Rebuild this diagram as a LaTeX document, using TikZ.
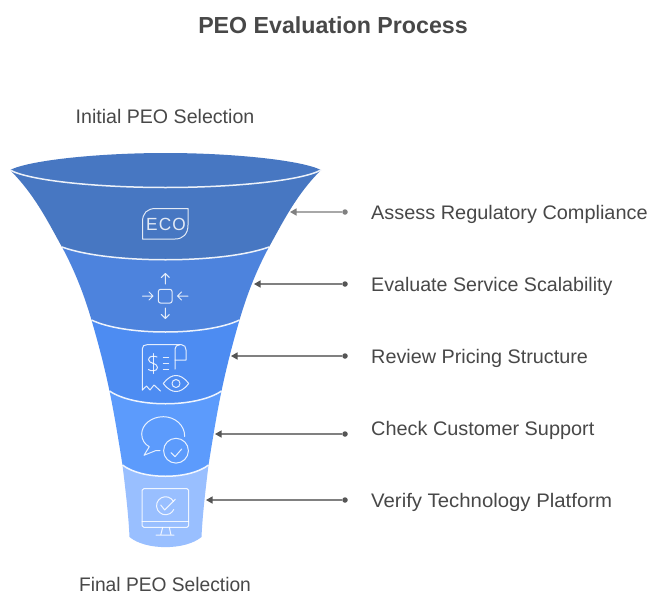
\documentclass[tikz,border=0pt]{standalone}
\usepackage{fontspec}
\setmainfont{Liberation Sans}
\usetikzlibrary{arrows.meta}
\definecolor{txt}{HTML}{484848}
\definecolor{ca}{HTML}{4777C2}
\definecolor{cb}{HTML}{4D83DD}
\definecolor{cc}{HTML}{4D8CF2}
\definecolor{cd}{HTML}{5C9BFC}
\definecolor{ce}{HTML}{99BFFF}
\definecolor{lnA}{HTML}{A8A8A8}
\definecolor{tpA}{HTML}{808080}
\definecolor{lnB}{HTML}{808080}
\definecolor{tpB}{HTML}{555555}
\tikzset{
  lab/.style={anchor=base west,inner sep=0pt,text=txt,font=\fontsize{19.6}{22}\selectfont},
  captxt/.style={anchor=base,inner sep=0pt,text=txt,font=\fontsize{19.6}{22}\selectfont},
  ttl/.style={anchor=base,inner sep=0pt,text=txt,font=\fontsize{23.2}{28}\selectfont\bfseries},
  dotmark/.style={circle,fill=#1,draw=none,minimum size=5.5pt,inner sep=0pt},
  conn/.style n args={2}{draw=#1,line width=1.3pt,-{Triangle[length=6.5pt,width=7pt,fill=#2,color=#2]}},
  icon/.style={draw=white,draw opacity=.85,line width=1pt,line cap=round,line join=round},
  seam/.style={draw=white,draw opacity=.9,line width=1.5pt},
}
% \seg{colour}{wTop}{yTop}{w c1}{y c1}{w c2}{y c2}{wBot}{yBot}
\newcommand{\seg}[9]{%
  \def\cx{165.5}%
  \path[fill=#1,draw=none] ({\cx-#2},#3) .. controls ({\cx-#4},#5) and ({\cx-#6},#7) .. ({\cx-#8},#9)
     .. controls ({\cx-.55*#8},{#9+\dpth}) and ({\cx+.55*#8},{#9+\dpth}) .. ({\cx+#8},#9)
     .. controls ({\cx+#6},#7) and ({\cx+#4},#5) .. ({\cx+#2},#3) -- cycle;
}
\newcommand{\arcc}[2]{%
  \path[seam] ({165.5-#1},#2) .. controls ({165.5-.55*#1},{#2+\dpth}) and ({165.5+.55*#1},{#2+\dpth}) .. ({165.5+#1},#2);
}
\begin{document}
\begin{tikzpicture}[x=1pt,y=-1pt]
\useasboundingbox (0,0) rectangle (658,602);
\fill[white] (0,0) rectangle (658,602);
% funnel, bottom up
\def\dpth{13.5}
\seg{ce}{43}{465}{40}{490}{37}{515}{36}{537}
\def\dpth{15}
\seg{cd}{56}{391}{51}{415}{47}{440}{43}{465}
\arcc{43}{465}
\def\dpth{17}
\seg{cc}{74}{320}{67}{344}{61}{367}{56}{391}
\arcc{56}{391}
\def\dpth{16}
\seg{cb}{103.5}{247}{90.5}{271}{81}{296}{74}{320}
\arcc{74}{320}
\def\dpth{17}
\seg{ca}{155.5}{170}{130.5}{195}{117.5}{222}{103.5}{247}
\arcc{103.5}{247}
% top ellipse
\fill[ca] (10,170) .. controls (30,160) and (100,153) .. (165.5,153) .. controls (231,153) and (301,160) .. (321,170)
  .. controls (301,181) and (231,187.5) .. (165.5,187.5) .. controls (100,187.5) and (30,181) .. (10,170) -- cycle;
\path[seam] (10,170) .. controls (30,181) and (100,187.5) .. (165.5,187.5) .. controls (231,187.5) and (301,181) .. (321,170);
% ECO icon
\path[icon] (142.5,239) -- (142.5,222) .. controls (142.5,213) and (147,208.5) .. (156,208.5) -- (188,208.5) -- (188,225)
  .. controls (188,234) and (183,239) .. (175,239) -- cycle;
\node[inner sep=0pt,text=white,opacity=.85,xscale=.98,font=\fontsize{17.6}{20}\selectfont] (eco) at (166,224.5) {\addfontfeature{LetterSpace=7}ECO};
% scale icon
\path[icon] (158.4,291.5) .. controls (158.4,290) and (159.4,289.4) .. (160.5,289.4) -- (170,289.4) .. controls (171.2,289.4) and (172,290.2) .. (172,291.5) -- (172,301) .. controls (172,302.2) and (171.2,303) .. (170,303) -- (160.5,303) .. controls (159.4,303) and (158.4,302.2) .. (158.4,301) -- cycle;
\path[icon] (165.3,284) -- (165.3,273.5) (161.3,277.5) -- (165.3,273.5) -- (169.3,277.5);
\path[icon] (165.3,308) -- (165.3,318.5) (161.3,314.5) -- (165.3,318.5) -- (169.3,314.5);
\path[icon] (142.5,296) -- (153,296) (149,292) -- (153,296) -- (149,300);
\path[icon] (188,296) -- (177.5,296) (181.5,292) -- (177.5,296) -- (181.5,300);
% receipt icon
\path[icon] (142.3,390) -- (142.3,349) .. controls (142.3,346) and (144,344.7) .. (147,344.7) -- (181.5,344.7)
  .. controls (184.5,344.7) and (186,347) .. (186,350) -- (186,360) -- (175,360);
\path[icon] (175,369) -- (175,349) .. controls (175,346.5) and (177,344.7) .. (180,344.7);
\path[icon] (142.3,390) -- (146.5,386) -- (150,390) -- (154,385) -- (160.5,391);
\path[icon] (157,357) .. controls (155,355.6) and (148.5,355.6) .. (148.5,359.5) .. controls (148.5,364) and (157.5,362.5) .. (157.5,367.5) .. controls (157.5,371.5) and (150.5,371.5) .. (148.5,369.5);
\path[icon] (153,353.5) -- (153,373.5);
\path[icon] (163.3,357.3) -- (168.7,357.3) (163.3,363.3) -- (168.7,363.3) (163.3,369.3) -- (168.7,369.3);
\path[icon] (163.3,383.5) .. controls (168,377.5) and (172,375.5) .. (176,375.5) .. controls (180,375.5) and (184,377.5) .. (188.7,383.5) .. controls (184,389.5) and (180,391.5) .. (176,391.5) .. controls (172,391.5) and (168,389.5) .. (163.3,383.5) -- cycle;
\path[icon] (176,383.5) circle [radius=4];
% chat icon
\path[icon] (184.7,436.5) .. controls (184.7,425) and (175,416.7) .. (163.3,416.7) .. controls (151,416.7) and (141.7,425) .. (141.7,434) .. controls (141.7,440) and (145,444.5) .. (149.3,446.7) -- (144,455.3) -- (156,450.5) -- (160,450.5);
\path[icon] (176,450.7) circle [radius=12.4];
\path[icon] (171,452.7) -- (175,456.7) -- (181.7,449);
% monitor icon
\path[icon] (143.8,488.7) -- (187,488.7) .. controls (188,488.7) and (188.7,489.4) .. (188.7,490.4) -- (188.7,525.6) .. controls (188.7,526.6) and (188,527.3) .. (187,527.3) -- (143.8,527.3) .. controls (142.8,527.3) and (142,526.6) .. (142,525.6) -- (142,490.4) .. controls (142,489.4) and (142.8,488.7) .. (143.8,488.7) -- cycle;
\path[icon] (142,521) -- (188.7,521);
\path[icon] (162.7,527.3) -- (160.7,535) (169.3,527.3) -- (171,535) (156,535) -- (174,535);
\path[icon] (173.5,501.5) arc [start angle=-28,end angle=-335,radius=9];
\path[icon] (160.7,505) -- (164.7,510) -- (175.3,499.3);
% labels
\node[ttl] (title) at (333,34) {PEO Evaluation Process};
\node[captxt] (initial) at (165,123.2) {Initial PEO Selection};
\node[captxt,xscale=.98] (final) at (165,591.2) {Final PEO Selection};
\node[lab,xscale=1.015] (l1) at (371,219.2) {Assess Regulatory Compliance};
\node[lab,xscale=1.002] (l2) at (371,291.2) {Evaluate Service Scalability};
\node[lab,xscale=1.01] (l3) at (371,363.2) {Review Pricing Structure};
\node[lab,xscale=1.014] (l4) at (371,435.2) {Check Customer Support};
\node[lab,xscale=1.038] (l5) at (371,507.2) {Verify Technology Platform};
% connectors
\node[dotmark=tpA] (d1) at (345,212) {};
\node[dotmark=tpB] (d2) at (345,284) {};
\node[dotmark=tpB] (d3) at (345,356) {};
\node[dotmark=tpB] (d4) at (345,434) {};
\node[dotmark=tpB] (d5) at (345,500) {};
\coordinate (t1) at (290,212);
\coordinate (t2) at (254,284);
\coordinate (t3) at (231,356);
\coordinate (t4) at (215,434);
\coordinate (t5) at (206,500);
\draw[conn={lnA}{tpA}] (d1) -- (t1);
\draw[conn={lnB}{tpB}] (d2) -- (t2);
\draw[conn={lnB}{tpB}] (d3) -- (t3);
\draw[conn={lnB}{tpB}] (d4) -- (t4);
\draw[conn={lnB}{tpB}] (d5) -- (t5);
\end{tikzpicture}
\end{document}
